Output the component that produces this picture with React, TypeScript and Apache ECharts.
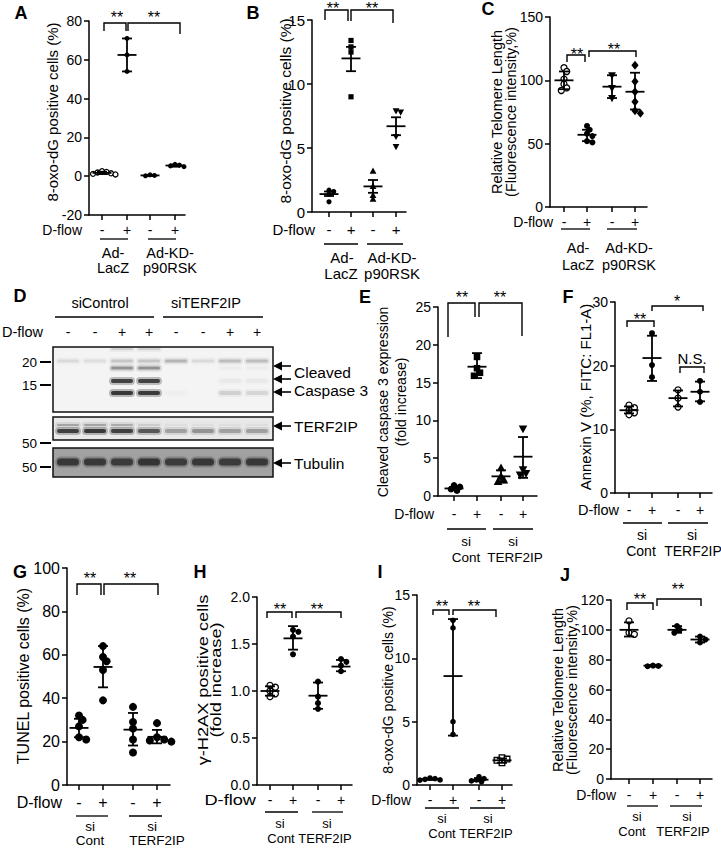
import React, { useEffect, useRef } from "react";
import * as echarts from "echarts";

const FONT = "'Liberation Sans', Arial, Helvetica, sans-serif";

// ---------------- shared tick labels ----------------
const DFLOW_SIGNS = ["-", "+", "-", "+"];

// ---------------- Panel A ----------------
const A_POINTS = [[2.6, 2.2, 1.9, 1.5, 1.2, 0.9], [71, 62.5, 54], [0.7, 0.4, 0.2], [6.1, 5.7, 5.3, 4.9]];
const A_MEAN = [1.7, 62.5, 0.4, 5.5];
const A_LOW = [1.1, 54, 0.2, 4.9];
const A_HIGH = [2.3, 71, 0.7, 6.1];

// ---------------- Panel B ----------------
const B_POINTS = [[1.7, 1.6, 1.4, 0.8], [13.4, 12.9, 12.5, 9.0], [3.2, 2.0, 1.3, 1.0], [7.9, 7.8, 5.9, 5.1]];
const B_MEAN = [1.4, 12.0, 2.0, 6.7];
const B_LOW = [1.25, 11.0, 1.5, 6.0];
const B_HIGH = [1.6, 12.9, 2.5, 7.4];

// ---------------- Panel C ----------------
const C_POINTS = [[110, 107, 101, 97, 94, 92], [64, 61, 58, 56, 52, 51], [104, 94, 86], [112, 99, 91, 83, 76, 74]];
const C_MEAN = [100, 57, 95, 91];
const C_LOW = [93, 52, 86, 77];
const C_HIGH = [107, 61, 104, 106];

// ---------------- Panel E ----------------
const E_POINTS = [[1.4, 1.2, 0.9, 0.7], [18.4, 16.9, 16.3, 15.9], [3.7, 2.6, 2.1, 1.9], [8.9, 3.5, 3.0, 2.8]];
const E_MEAN = [1.0, 17.1, 2.6, 5.2];
const E_LOW = [0.8, 15.6, 1.8, 2.4];
const E_HIGH = [1.2, 18.9, 3.4, 7.8];

// ---------------- Panel F ----------------
const F_POINTS = [[13.8, 13.4, 13.0, 12.6, 12.3], [25.1, 20.1, 18.2], [16.2, 14.9, 13.5], [17.6, 15.9, 14.3]];
const F_MEAN = [13.0, 21.2, 14.9, 15.9];
const F_LOW = [12.5, 17.6, 13.6, 14.4];
const F_HIGH = [13.6, 24.7, 16.1, 17.5];

// ---------------- Panel G ----------------
const G_POINTS = [[32, 30, 27, 22, 21], [64, 59, 57, 53, 39], [36, 29, 26, 21, 15], [28.5, 22, 21, 20.5, 20]];
const G_MEAN = [26.3, 54.4, 25.5, 22.2];
const G_LOW = [22, 45, 18.2, 19.2];
const G_HIGH = [30.5, 64, 33.2, 25.4];

// ---------------- Panel H ----------------
const H_POINTS = [[1.06, 1.04, 1.0, 0.97, 0.94], [1.65, 1.63, 1.58, 1.39], [1.1, 0.94, 0.87, 0.81], [1.34, 1.31, 1.27, 1.21]];
const H_MEAN = [1.0, 1.56, 0.95, 1.26];
const H_LOW = [0.95, 1.44, 0.81, 1.21];
const H_HIGH = [1.05, 1.69, 1.09, 1.33];

// ---------------- Panel I ----------------
const I_POINTS = [[0.55, 0.5, 0.45, 0.4, 0.38], [13.0, 12.4, 5.0, 4.0], [0.65, 0.5, 0.4, 0.32, 0.25], [2.15, 2.05, 1.95, 1.75]];
const I_MEAN = [0.46, 8.6, 0.42, 1.95];
const I_LOW = [0.4, 3.9, 0.3, 1.75];
const I_HIGH = [0.52, 13.1, 0.55, 2.1];

// ---------------- Panel J ----------------
const J_POINTS = [[106, 98, 97], [76, 75.8, 75.6], [102.5, 100, 98], [95.5, 93.5, 91.5]];
const J_MEAN = [100, 76, 100, 93.5];
const J_LOW = [95.5, 75.5, 98, 91.5];
const J_HIGH = [105, 76.5, 102.5, 95.5];

// ---------------- Panel D (western blot) ----------------
const D_LANE_SIGNS = ["-", "-", "+", "+", "-", "-", "+", "+"];
const D_MW_LABELS = ["20", "15", "50", "50"];
const D_CASP_TOP = [0, 0, 0.14, 0.14, 0, 0, 0, 0];
const D_CASP_20 = [0.1, 0.08, 0.18, 0.18, 0.26, 0.1, 0.22, 0.22];
const D_CLEAVED_1 = [0, 0, 0.42, 0.42, 0, 0, 0.03, 0.03];
const D_CLEAVED_2 = [0, 0, 0.85, 0.85, 0, 0, 0.04, 0.04];
const D_CLEAVED_3 = [0, 0, 0.92, 0.9, 0.02, 0, 0.14, 0.12];
const D_TERF_UPPER = [0.3, 0.3, 0.26, 0.12, 0.04, 0.04, 0.04, 0.04];
const D_TERF_MAIN = [0.85, 0.9, 0.85, 0.7, 0.32, 0.38, 0.32, 0.32];
const D_TUBULIN = [0.8, 0.78, 0.76, 0.82, 0.76, 0.8, 0.76, 0.8];

type Panel = {
  letter: string; lx: number; ly: number;
  left: number; right: number; top: number; bottom: number;
  ymin: number; ymax: number; yint: number; dec: number;
  ticks: number[];
  points: number[][]; mean: number[]; low: number[]; high: number[];
  markers: string[]; r: number; fs: number;
  title: { lines: string[]; x: number; y: number; fs: number; lh: number; sx: number };
  dflow: { x: number; y: number; fs: number; sx: number };
  ulY: number; ul: number[][];
  labels: [string, number, number][]; lfs: number;
  brackets: number[][];
  stars: [string, number, number][];
};

const PANELS: Panel[] = [
  {
    letter: "A", lx: 21, ly: 13,
    left: 89, right: 185, top: 21, bottom: 215, ymin: -20, ymax: 80, yint: 20, dec: 0,
    ticks: [102, 127, 150, 175],
    points: A_POINTS, mean: A_MEAN, low: A_LOW, high: A_HIGH,
    markers: ["o", "c", "c", "c"], r: 2.5, fs: 14,
    title: { lines: ["8-oxo-dG positive cells (%)"], x: 52, y: 112, fs: 15, lh: 15, sx: 1 },
    dflow: { x: 82, y: 230, fs: 14, sx: 1 },
    ulY: 239, ul: [[100, 128], [148, 176]],
    labels: [["Ad-", 113, 253], ["LacZ", 113, 268], ["Ad-KD-", 170, 253], ["p90RSK", 170, 268]], lfs: 14.5,
    brackets: [[104, 126, 23, 31, 31], [128, 180, 23, 31, 34]],
    stars: [["**", 117, 13], ["**", 154, 13]],
  },
  {
    letter: "B", lx: 253, ly: 13,
    left: 312, right: 406, top: 20, bottom: 212, ymin: 0, ymax: 15, yint: 5, dec: 0,
    ticks: [329, 351, 373, 396],
    points: B_POINTS, mean: B_MEAN, low: B_LOW, high: B_HIGH,
    markers: ["c", "s", "tu", "td"], r: 2.6, fs: 15,
    title: { lines: ["8-oxo-dG positive cells (%)"], x: 285, y: 111, fs: 15.5, lh: 15, sx: 1 },
    dflow: { x: 315, y: 229, fs: 15, sx: 1 },
    ulY: 244, ul: [[324, 358], [367, 403]],
    labels: [["Ad-", 342, 257], ["LacZ", 341, 273], ["Ad-KD-", 392, 257], ["p90RSK", 392, 273]], lfs: 15,
    brackets: [[325, 348, 10, 20, 21], [351, 393, 10, 21, 23]],
    stars: [["**", 333, 4], ["**", 372, 4]],
  },
  {
    letter: "C", lx: 488, ly: 9,
    left: 550, right: 647, top: 17, bottom: 207, ymin: 0, ymax: 150, yint: 50, dec: 0,
    ticks: [564, 587, 612, 635],
    points: C_POINTS, mean: C_MEAN, low: C_LOW, high: C_HIGH,
    markers: ["o", "c", "td", "d"], r: 3, fs: 14,
    title: { lines: ["Relative Telomere Length", "(Fluorescence intensity,%)"], x: 503.5, y: 112, fs: 14.5, lh: 14, sx: 1 },
    dflow: { x: 553, y: 222, fs: 14, sx: 1 },
    ulY: 229, ul: [[561, 590], [607, 637]],
    labels: [["Ad-", 578, 248], ["LacZ", 578, 265], ["Ad-KD-", 629, 248], ["p90RSK", 629, 265]], lfs: 14.5,
    brackets: [[567, 585, 55, 62, 62], [589, 636, 51, 57, 57]],
    stars: [["**", 577, 50], ["**", 614, 45]],
  },
  {
    letter: "E", lx: 365, ly: 297,
    left: 438, right: 537, top: 307, bottom: 496, ymin: 0, ymax: 25, yint: 5, dec: 0,
    ticks: [454, 477, 501, 523],
    points: E_POINTS, mean: E_MEAN, low: E_LOW, high: E_HIGH,
    markers: ["c", "s", "tu", "td"], r: 3.3, fs: 14,
    title: { lines: ["Cleaved caspase 3 expression", "(fold increase)"], x: 392, y: 402, fs: 14, lh: 18, sx: 1 },
    dflow: { x: 434, y: 514, fs: 14, sx: 1 },
    ulY: 529, ul: [[447, 486], [493, 533]],
    labels: [["si", 466, 541], ["Cont", 466, 557], ["si", 513, 541], ["TERF2IP", 515, 557]], lfs: 13.5,
    brackets: [[448, 475, 303, 337, 317], [479, 522, 303, 317, 336]],
    stars: [["**", 462, 293], ["**", 500, 293]],
  },
  {
    letter: "F", lx: 568, ly: 297,
    left: 615, right: 712, top: 302, bottom: 493, ymin: 0, ymax: 30, yint: 10, dec: 0,
    ticks: [629, 652, 678, 700],
    points: F_POINTS, mean: F_MEAN, low: F_LOW, high: F_HIGH,
    markers: ["o", "c", "o", "c"], r: 3, fs: 14,
    title: { lines: ["Annexin V (%, FITC: FL1-A)"], x: 585, y: 397, fs: 15, lh: 14, sx: 1 },
    dflow: { x: 619, y: 510, fs: 14.5, sx: 1 },
    ulY: 523, ul: [[623, 662], [668, 708]],
    labels: [["si", 642, 535], ["Cont", 641, 551], ["si", 692, 535], ["TERF2IP", 693, 551]], lfs: 14,
    brackets: [[627, 654, 321, 327, 327], [652, 703, 306, 311, 311], [680, 704, 367, 373, 373]],
    stars: [["**", 640, 315], ["*", 677, 297], ["N.S.", 692, 358]],
  },
  {
    letter: "G", lx: 20, ly: 572,
    left: 67, right: 170, top: 568, bottom: 785, ymin: 0, ymax: 100, yint: 20, dec: 0,
    ticks: [79, 103, 133, 157],
    points: G_POINTS, mean: G_MEAN, low: G_LOW, high: G_HIGH,
    markers: ["c", "c", "c", "c"], r: 4, fs: 16,
    title: { lines: ["TUNEL positive cells (%)"], x: 23, y: 676, fs: 16, lh: 16, sx: 1 },
    dflow: { x: 62, y: 802, fs: 16, sx: 1 },
    ulY: 816, ul: [[76, 108], [129, 162]],
    labels: [["si", 90, 826], ["Cont", 90, 840], ["si", 152, 826], ["TERF2IP", 157, 840]], lfs: 13.5,
    brackets: [[77, 101, 584, 595, 595], [104, 158, 584, 595, 595]],
    stars: [["**", 90, 574], ["**", 130, 574]],
  },
  {
    letter: "H", lx: 200, ly: 572,
    left: 257, right: 352, top: 597, bottom: 785, ymin: 0, ymax: 2, yint: 0.5, dec: 1,
    ticks: [270, 293, 318, 341],
    points: H_POINTS, mean: H_MEAN, low: H_LOW, high: H_HIGH,
    markers: ["o", "c", "c", "c"], r: 3, fs: 14,
    title: { lines: ["γ-H2AX positive cells", "(fold increase)"], x: 209.5, y: 680, fs: 14, lh: 13, sx: 1.3 },
    dflow: { x: 256, y: 800, fs: 14, sx: 1.3 },
    ulY: 812, ul: [[265, 298], [312, 343]],
    labels: [["si", 280, 823], ["Cont", 281, 838], ["si", 327, 823], ["TERF2IP", 325, 838]], lfs: 13,
    brackets: [[267, 292, 612, 618, 618], [296, 341, 612, 618, 618]],
    stars: [["**", 280, 605], ["**", 317, 605]],
  },
  {
    letter: "I", lx: 380, ly: 572,
    left: 417, right: 512, top: 595, bottom: 785, ymin: 0, ymax: 15, yint: 5, dec: 0,
    ticks: [430, 453, 479, 502],
    points: I_POINTS, mean: I_MEAN, low: I_LOW, high: I_HIGH,
    markers: ["c", "c", "c", "os"], r: 2.8, fs: 14,
    title: { lines: ["8-oxo-dG positive cells (%)"], x: 388, y: 690, fs: 14, lh: 14, sx: 1 },
    dflow: { x: 411, y: 800, fs: 14, sx: 1 },
    ulY: 808, ul: [[425, 459], [470, 505]],
    labels: [["si", 442, 818], ["Cont", 442, 833], ["si", 488, 818], ["TERF2IP", 486, 833]], lfs: 13,
    brackets: [[433, 449, 610, 615, 615], [453, 496, 610, 615, 617]],
    stars: [["**", 442, 602], ["**", 474, 602]],
  },
  {
    letter: "J", lx: 565, ly: 575,
    left: 611, right: 712, top: 600, bottom: 779, ymin: 0, ymax: 120, yint: 20, dec: 0,
    ticks: [629, 653, 677, 700],
    points: J_POINTS, mean: J_MEAN, low: J_LOW, high: J_HIGH,
    markers: ["o", "c", "c", "c"], r: 3, fs: 14,
    title: { lines: ["Relative Telomere Length", "(Fluorescence intensity,%)"], x: 565, y: 690, fs: 14.5, lh: 14, sx: 1 },
    dflow: { x: 616, y: 795, fs: 14, sx: 1 },
    ulY: 806, ul: [[627, 658], [670, 702]],
    labels: [["si", 637, 816], ["Cont", 632, 831], ["si", 687, 816], ["TERF2IP", 683, 831]], lfs: 13,
    brackets: [[627, 653, 603, 610, 610], [657, 701, 599, 606, 606]],
    stars: [["**", 640, 595], ["**", 678, 585]],
  },
];

// --------- helpers ---------
function swarm(vals: number[], ppu: number, r: number): number[] {
  const d = r * 2;
  const placed: { x: number; y: number }[] = [];
  const out: number[] = [];
  vals.forEach((v) => {
    const y = v * ppu;
    const cands: number[] = [0];
    for (let k = 1; k < 14; k++) { cands.push(k * d * 0.45, -k * d * 0.45); }
    let chosen = 0;
    for (const c of cands) {
      const ok = placed.every((p) => Math.hypot(p.x - c, p.y - y) >= d * 0.7);
      if (ok) { chosen = c; break; }
    }
    placed.push({ x: chosen, y });
    out.push(chosen);
  });
  return out;
}

function marker(kind: string, cx: number, cy: number, r: number): any {
  const black = { fill: "#000" };
  const open = { fill: "#fff", stroke: "#000", lineWidth: 1.3 };
  switch (kind) {
    case "o": return { type: "circle", shape: { cx, cy, r }, style: open };
    case "s": return { type: "rect", shape: { x: cx - r, y: cy - r, width: 2 * r, height: 2 * r }, style: black };
    case "os": return { type: "rect", shape: { x: cx - r, y: cy - r, width: 2 * r, height: 2 * r }, style: open };
    case "tu": return { type: "polygon", shape: { points: [[cx, cy - 1.4 * r], [cx - 1.3 * r, cy + r], [cx + 1.3 * r, cy + r]] }, style: black };
    case "td": return { type: "polygon", shape: { points: [[cx, cy + 1.4 * r], [cx - 1.3 * r, cy - r], [cx + 1.3 * r, cy - r]] }, style: black };
    case "d": return { type: "polygon", shape: { points: [[cx, cy - 1.5 * r], [cx + 1.2 * r, cy], [cx, cy + 1.5 * r], [cx - 1.2 * r, cy]] }, style: black };
    default: return { type: "circle", shape: { cx, cy, r }, style: black };
  }
}

const txt = (t: string, x: number, y: number, fs: number, align = "center", extra: any = {}, styleExtra: any = {}) => ({
  type: "text", x, y, silent: true, ...extra,
  style: { text: t, fontSize: fs, fontFamily: FONT, fill: "#000", align, verticalAlign: "middle", ...styleExtra },
});
const ln = (x1: number, y1: number, x2: number, y2: number, w = 1.4) => ({
  type: "line", silent: true, shape: { x1, y1, x2, y2 }, style: { stroke: "#000", lineWidth: w },
});

function panelGraphics(p: Panel): any[] {
  const els: any[] = [];
  els.push(txt(p.letter, p.lx, p.ly, 18, "center", {}, { fontWeight: "bold" }));
  els.push(txt(p.title.lines.join("\n"), p.title.x, p.title.y, p.title.fs, "center",
    { rotation: Math.PI / 2, scaleX: p.title.sx }, { lineHeight: p.title.lh }));
  els.push(txt("D-flow", p.dflow.x, p.dflow.y, p.dflow.fs, "right", { scaleX: p.dflow.sx }));
  p.ul.forEach(([a, b]) => els.push(ln(a, p.ulY, b, p.ulY, 1.3)));
  p.labels.forEach(([t, x, y]) => els.push(txt(t, x, y, p.lfs)));
  p.brackets.forEach(([x1, x2, top, l, r]) => els.push({
    type: "polyline", silent: true,
    shape: { points: [[x1, l], [x1, top], [x2, top], [x2, r]] },
    style: { stroke: "#000", lineWidth: 1.4, fill: null },
  }));
  p.stars.forEach(([t, x, y]) => {
    const isStar = t.indexOf("*") >= 0;
    els.push(txt(t, x, isStar ? y + 4 : y, isStar ? 16 : 15));
  });
  return els;
}

function blotGraphics(): any[] {
  const els: any[] = [];
  const laneX = (i: number) => 68 + i * 27;
  els.push(txt("D", 20, 296, 18, "center", {}, { fontWeight: "bold" }));
  els.push(txt("siControl", 100, 303, 14.5));
  els.push(txt("siTERF2IP", 206, 303, 14.5));
  els.push(ln(55, 317, 154, 317, 1.3));
  els.push(ln(163, 317, 263, 317, 1.3));
  els.push(txt("D-flow", 2, 332, 14.5, "left"));
  D_LANE_SIGNS.forEach((s, i) => els.push(txt(s, laneX(i), 332, 14)));
  const boxes = [
    { y: 347, h: 65, fill: "#f4f4f4" },
    { y: 417, h: 23, fill: "#e9e9e9" },
    { y: 448, h: 29, fill: "#a2a2a2" },
  ];
  boxes.forEach((b) => els.push({ type: "rect", silent: true, shape: { x: 53, y: b.y, width: 220, height: b.h }, style: { fill: b.fill } }));
  const rows = [
    { y: 349, h: 2, vals: D_CASP_TOP },
    { y: 361, h: 3, vals: D_CASP_20 },
    { y: 368, h: 3, vals: D_CLEAVED_1 },
    { y: 381, h: 4, vals: D_CLEAVED_2 },
    { y: 393, h: 4, vals: D_CLEAVED_3 },
    { y: 425, h: 2, vals: D_TERF_UPPER },
    { y: 431, h: 4, vals: D_TERF_MAIN },
    { y: 462, h: 7, vals: D_TUBULIN },
  ];
  rows.forEach((row) => row.vals.forEach((a, i) => {
    if (a <= 0) return;
    const cx = laneX(i);
    els.push({
      type: "rect", silent: true,
      shape: { x: cx - 13, y: row.y - row.h / 2 - 2, width: 26, height: row.h + 4, r: (row.h + 4) / 2 },
      style: { fill: `rgba(20,20,20,${(a * 0.3).toFixed(3)})` },
    });
    els.push({
      type: "rect", silent: true,
      shape: { x: cx - 11, y: row.y - row.h / 2, width: 22, height: row.h, r: row.h / 2 },
      style: { fill: `rgba(20,20,20,${(a * 0.85).toFixed(3)})` },
    });
  }));
  boxes.forEach((b) => els.push({ type: "rect", silent: true, shape: { x: 53, y: b.y, width: 220, height: b.h }, style: { fill: null, stroke: "#111", lineWidth: 1.5 } }));
  const mwY = [362, 385, 443, 467];
  D_MW_LABELS.forEach((t, i) => {
    els.push(txt(t, 37, mwY[i], 13.5, "right"));
    els.push(ln(40, mwY[i], 51, mwY[i], 2));
  });
  [366, 379, 392, 426, 463].forEach((y) => {
    els.push(ln(280, y, 291, y, 1.6));
    els.push({ type: "polygon", silent: true, shape: { points: [[273, y], [282, y - 4.5], [282, y + 4.5]] }, style: { fill: "#000" } });
  });
  els.push(txt("Cleaved", 294, 372, 15.5, "left"));
  els.push(txt("Caspase 3", 294, 390, 15.5, "left"));
  els.push(txt("TERF2IP", 294, 426, 15.5, "left"));
  els.push(txt("Tubulin", 294, 463, 15.5, "left"));
  return els;
}

function buildOption() {
  const grid: any[] = [];
  const xAxis: any[] = [];
  const yAxis: any[] = [];
  const series: any[] = [];
  const graphics: any[] = [];
  PANELS.forEach((p, i) => {
    const w = p.right - p.left;
    const xs = p.ticks.map((t) => t - p.left);
    grid.push({ left: p.left, top: p.top, width: w, height: p.bottom - p.top, containLabel: false, outerBoundsMode: "none" });
    xAxis.push({
      gridIndex: i, type: "value", min: 0, max: w,
      axisLine: { show: true, onZero: false, lineStyle: { color: "#000", width: 1.5 } },
      axisTick: { show: true, customValues: xs, length: 5, lineStyle: { color: "#000", width: 1.5 } },
      axisLabel: {
        show: true, customValues: xs, color: "#000", fontSize: p.fs, fontFamily: FONT,
        margin: p.dflow.y - p.bottom - p.fs * 0.5,
        formatter: (v: number) => {
          let best = 0;
          xs.forEach((x, k) => { if (Math.abs(x - v) < Math.abs(xs[best] - v)) best = k; });
          return DFLOW_SIGNS[best];
        },
      },
      splitLine: { show: false },
    });
    yAxis.push({
      gridIndex: i, type: "value", min: p.ymin, max: p.ymax, interval: p.yint,
      axisLine: { show: true, onZero: false, lineStyle: { color: "#000", width: 1.5 } },
      axisTick: { show: true, length: 5, lineStyle: { color: "#000", width: 1.5 } },
      axisLabel: {
        show: true, color: "#000", fontSize: p.fs, fontFamily: FONT, margin: 7,
        formatter: (v: number) => (p.dec ? v.toFixed(p.dec) : String(Math.round(v))),
      },
      splitLine: { show: false },
    });
    const ppu = (p.bottom - p.top) / (p.ymax - p.ymin);
    const ptsData: number[][] = [];
    p.points.forEach((vals, g) => {
      const offs = swarm(vals, ppu, p.r);
      vals.forEach((v, k) => ptsData.push([xs[g], v, offs[k], g]));
    });
    series.push({
      type: "custom", xAxisIndex: i, yAxisIndex: i, silent: true, z: 2, clip: false,
      data: ptsData,
      renderItem: (_params: any, api: any) => {
        const c = api.coord([api.value(0), api.value(1)]);
        return marker(p.markers[api.value(3)], c[0] + api.value(2), c[1], p.r);
      },
    });
    series.push({
      type: "custom", xAxisIndex: i, yAxisIndex: i, silent: true, z: 3, clip: false,
      data: p.mean.map((m, g) => [xs[g], m, p.low[g], p.high[g]]),
      renderItem: (_params: any, api: any) => {
        const x = api.value(0);
        const m = api.coord([x, api.value(1)]);
        const lo = api.coord([x, api.value(2)]);
        const hi = api.coord([x, api.value(3)]);
        const st = { stroke: "#000", lineWidth: 1.8 };
        const mw = 9.5, cw = 5;
        return {
          type: "group",
          children: [
            { type: "line", shape: { x1: m[0], y1: lo[1], x2: m[0], y2: hi[1] }, style: st },
            { type: "line", shape: { x1: m[0] - cw, y1: lo[1], x2: m[0] + cw, y2: lo[1] }, style: st },
            { type: "line", shape: { x1: m[0] - cw, y1: hi[1], x2: m[0] + cw, y2: hi[1] }, style: st },
            { type: "line", shape: { x1: m[0] - mw, y1: m[1], x2: m[0] + mw, y2: m[1] }, style: st },
          ],
        };
      },
    });
    graphics.push(...panelGraphics(p));
  });
  graphics.push(...blotGraphics());
  return {
    animation: false,
    backgroundColor: "#fff",
    textStyle: { fontFamily: FONT },
    grid, xAxis, yAxis, series,
    graphic: { elements: graphics },
  };
}

export default function App() {
  const ref = useRef<HTMLDivElement>(null);
  useEffect(() => {
    document.body.style.margin = "0";
    if (!ref.current) return;
    const chart = echarts.init(ref.current, undefined, { renderer: "svg", width: 721, height: 848 });
    chart.setOption(buildOption() as any);
    return () => chart.dispose();
  }, []);
  return (
    <div
      ref={ref}
      style={{ position: "absolute", left: 0, top: 0, width: 721, height: 848, background: "#fff" }}
    />
  );
}
